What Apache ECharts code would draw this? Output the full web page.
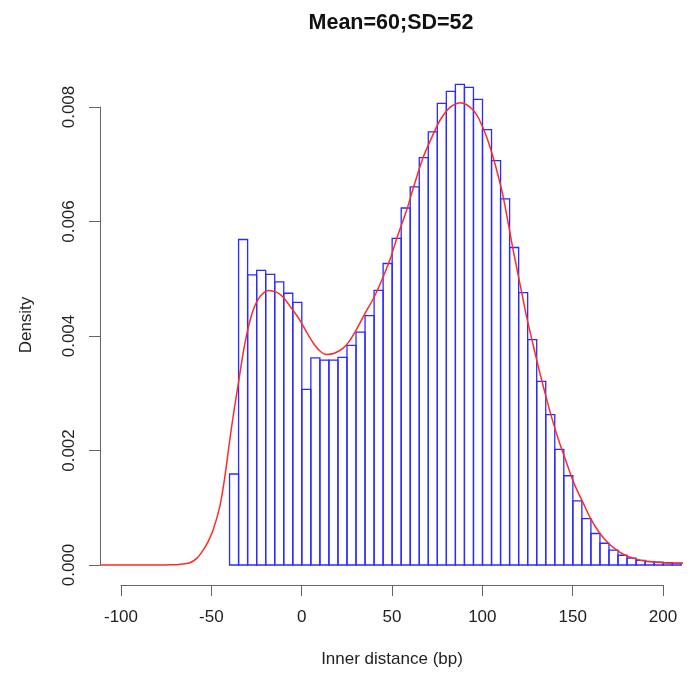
<!DOCTYPE html>
<html>
<head>
<meta charset="utf-8">
<script src="https://cdn.jsdelivr.net/npm/echarts@6/dist/echarts.min.js"></script>
<style>html,body{margin:0;padding:0;background:#fff;}#c{width:691px;height:679px;}</style>
</head>
<body>
<div id="c"></div>
<script>
// Histogram bins (left edges, bin width 5 bp) and densities
const binWidth = 5;
const binStarts = [-40,-35,-30,-25,-20,-15,-10,-5,0,5,10,15,20,25,30,35,40,45,50,55,60,65,70,75,80,85,90,95,100,105,110,115,120,125,130,135,140,145,150,155,160,165,170,175,180,185,190,195,200,205];
const binDensity = [0.00159,0.00569,0.00507,0.00515,0.00508,0.00495,0.00475,0.00459,0.00307,0.00362,0.00358,0.00358,0.00363,0.00384,0.00407,0.00436,0.00480,0.00527,0.00571,0.00624,0.00661,0.00712,0.00757,0.00807,0.00828,0.00840,0.00835,0.00814,0.00761,0.00707,0.00640,0.00555,0.00476,0.00394,0.00321,0.00263,0.00202,0.00156,0.00112,0.00081,0.00055,0.00038,0.00026,0.00017,0.00012,0.00008,0.00006,0.00005,0.00004,0.00003];

// Kernel density curve (x, density)
const curveX = [-111.7,-80,-72,-68,-62,-58,-54.6,-52,-49.1,-45.4,-42.6,-39.9,-38,-35,-32.5,-30,-27,-23,-18.6,-14,-10.3,-6,-1.1,3,6.3,10,13.7,18,22.9,26,30.3,35,39.5,44,48.7,53,58,62,67.2,72,76.4,82,87.5,91,94.9,98,102.3,107,111.5,117,120.7,124.4,128,131.8,135.5,139.2,143,146.6,151,155.8,160,165,170,174.3,179,183.4,188,192.7,200,211];
const curveY = [0,0,0.000005,0.00001,0.00004,0.00012,0.00026,0.0004,0.00061,0.00102,0.00154,0.00218,0.0026,0.0032,0.0037,0.0041,0.00445,0.0047,0.0048,0.00477,0.00468,0.0045,0.00428,0.00405,0.00388,0.00374,0.00368,0.0037,0.00379,0.0039,0.00412,0.0044,0.00465,0.00496,0.00533,0.00575,0.0062,0.00662,0.00713,0.00748,0.00777,0.008,0.00808,0.00805,0.00795,0.0078,0.00748,0.007,0.00643,0.0055,0.00492,0.00434,0.00385,0.00335,0.0029,0.00248,0.0021,0.00178,0.0014,0.00108,0.0008,0.00055,0.00037,0.00026,0.00017,0.00012,0.00008,0.00006,0.00004,0.00003];

const xTickMin = -100, xTickMax = 200, xTickStep = 50;
const yTickMin = 0, yTickMax = 0.008, yTickStep = 0.002;

const titleText = 'Mean=60;SD=52';
const xName = 'Inner distance (bp)';
const yName = 'Density';

const histData = binStarts.map((s, i) => [s, binDensity[i]]);
const curveData = curveX.map((x, i) => [x, curveY[i]]);

const font = "'Liberation Sans', Arial, sans-serif";
const axisCol = '#666';
const labelSize = 17;
const chart = echarts.init(document.getElementById('c'), null, {renderer: 'canvas'});

chart.setOption({
  animation: false,
  backgroundColor: '#fff',
  textStyle: {fontFamily: font},
  title: {
    text: titleText, left: 386, top: 7, textAlign: 'center',
    textStyle: {fontFamily: font, fontSize: 21.5, fontWeight: 'bold', color: '#111'}
  },
  grid: [
    {left: 100, right: 0, top: 65, bottom: 94},          // plot region
    {left: 121, width: 542, top: 65, bottom: 94},         // x axis display
    {left: 100, right: 0, top: 107, height: 458}          // y axis display
  ],
  xAxis: [
    {gridIndex: 0, type: 'value', min: -111.7, max: 215.4, show: false},
    {gridIndex: 1, type: 'value', min: xTickMin, max: xTickMax, interval: xTickStep,
      axisLine: {show: true, lineStyle: {color: axisCol, width: 1}},
      axisTick: {show: true, length: 11, lineStyle: {color: axisCol}},
      axisLabel: {fontSize: labelSize, color: '#222', margin: 24, fontFamily: font},
      splitLine: {show: false},
      name: xName, nameLocation: 'middle', nameGap: 66,
      nameTextStyle: {fontSize: labelSize, color: '#222', fontFamily: font}},
    {gridIndex: 2, type: 'value', min: 0, max: 1, show: false}
  ],
  yAxis: [
    {gridIndex: 0, type: 'value', min: -0.00035, max: 0.00874,
      axisLine: {show: false}, axisTick: {show: false}, axisLabel: {show: false}, splitLine: {show: false},
      name: yName, nameLocation: 'middle', nameGap: 65,
      nameTextStyle: {fontSize: labelSize, color: '#222', fontFamily: font}},
    {gridIndex: 1, type: 'value', min: 0, max: 1, show: false},
    {gridIndex: 2, type: 'value', min: yTickMin, max: yTickMax, interval: yTickStep,
      axisLine: {show: true, lineStyle: {color: axisCol, width: 1}},
      axisTick: {show: true, length: 11, lineStyle: {color: axisCol}},
      axisLabel: {fontSize: labelSize, color: '#222', rotate: 90, margin: 22, fontFamily: font,
        formatter: v => v.toFixed(3)},
      splitLine: {show: false}}
  ],
  series: [
    {
      type: 'custom', xAxisIndex: 0, yAxisIndex: 0, z: 2,
      data: histData,
      renderItem: function (params, api) {
        const x0 = api.value(0), v = api.value(1);
        const p0 = api.coord([x0, 0]);
        const p1 = api.coord([x0 + binWidth, v]);
        return {
          type: 'rect',
          shape: {x: p0[0], y: p1[1], width: p1[0] - p0[0], height: p0[1] - p1[1]},
          style: {fill: 'rgba(255,255,255,0)', stroke: '#2b2bff', lineWidth: 1.3}
        };
      }
    },
    {
      type: 'line', xAxisIndex: 0, yAxisIndex: 0, z: 5,
      data: curveData, smooth: 0.25, showSymbol: false,
      lineStyle: {color: '#ff2a2a', width: 1.5}
    }
  ]
});
</script>
</body>
</html>
